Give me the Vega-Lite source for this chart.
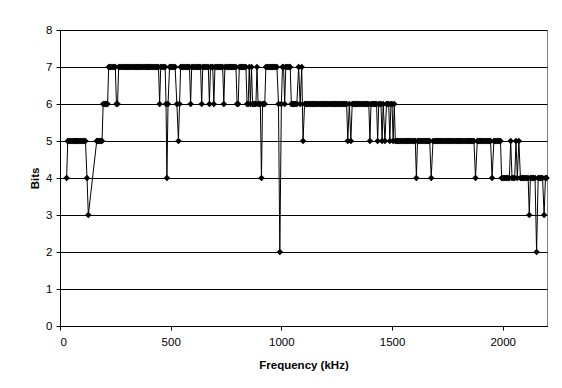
{
  "$schema": "https://vega.github.io/schema/vega-lite/v6.json",
  "width": 487,
  "height": 296,
  "autosize": {"type": "none"},
  "padding": {"left": 60, "top": 30, "right": 15, "bottom": 62},
  "background": "white",
  "data": {"values": [
    {"f":30,"b":4},
    {"f":35,"b":5},{"f":40,"b":5},{"f":45,"b":5},{"f":50,"b":5},{"f":55,"b":5},{"f":60,"b":5},{"f":65,"b":5},{"f":70,"b":5},{"f":75,"b":5},{"f":80,"b":5},{"f":85,"b":5},{"f":90,"b":5},{"f":95,"b":5},{"f":100,"b":5},{"f":105,"b":5},{"f":110,"b":5},{"f":115,"b":5},
    {"f":122,"b":4},{"f":128,"b":3},
    {"f":166,"b":5},{"f":170,"b":5},{"f":175,"b":5},{"f":180,"b":5},{"f":185,"b":5},{"f":190,"b":5},
    {"f":195,"b":6},{"f":200,"b":6},{"f":205,"b":6},{"f":210,"b":6},{"f":215,"b":6},
    {"f":220,"b":7},{"f":225,"b":7},{"f":230,"b":7},{"f":235,"b":7},{"f":240,"b":7},{"f":245,"b":7},{"f":250,"b":7},
    {"f":255,"b":6},{"f":260,"b":6},
    {"f":265,"b":7},{"f":270,"b":7},{"f":275,"b":7},{"f":280,"b":7},{"f":285,"b":7},{"f":290,"b":7},{"f":295,"b":7},{"f":300,"b":7},{"f":305,"b":7},{"f":310,"b":7},{"f":315,"b":7},{"f":320,"b":7},{"f":325,"b":7},{"f":330,"b":7},{"f":335,"b":7},{"f":340,"b":7},{"f":345,"b":7},{"f":350,"b":7},{"f":355,"b":7},{"f":360,"b":7},{"f":365,"b":7},{"f":370,"b":7},{"f":375,"b":7},{"f":380,"b":7},{"f":385,"b":7},{"f":390,"b":7},{"f":395,"b":7},{"f":400,"b":7},{"f":405,"b":7},{"f":410,"b":7},{"f":415,"b":7},{"f":420,"b":7},{"f":425,"b":7},{"f":430,"b":7},{"f":435,"b":7},{"f":440,"b":7},{"f":445,"b":7},
    {"f":450,"b":6},
    {"f":455,"b":7},{"f":460,"b":7},{"f":465,"b":7},{"f":470,"b":7},{"f":475,"b":7},
    {"f":479,"b":6},{"f":483,"b":4},{"f":488,"b":6},
    {"f":495,"b":7},{"f":500,"b":7},{"f":505,"b":7},{"f":510,"b":7},{"f":515,"b":7},{"f":520,"b":7},
    {"f":528,"b":6},{"f":535,"b":5},{"f":540,"b":6},
    {"f":545,"b":7},{"f":550,"b":7},{"f":555,"b":7},{"f":560,"b":7},{"f":565,"b":7},{"f":570,"b":7},{"f":575,"b":7},{"f":580,"b":7},{"f":585,"b":7},
    {"f":590,"b":6},
    {"f":595,"b":7},{"f":600,"b":7},{"f":605,"b":7},{"f":610,"b":7},{"f":615,"b":7},{"f":620,"b":7},{"f":625,"b":7},{"f":630,"b":7},{"f":635,"b":7},
    {"f":640,"b":6},
    {"f":645,"b":7},{"f":650,"b":7},{"f":655,"b":7},{"f":660,"b":7},{"f":665,"b":7},{"f":670,"b":7},
    {"f":675,"b":6},
    {"f":680,"b":7},{"f":685,"b":7},{"f":690,"b":7},
    {"f":695,"b":6},
    {"f":700,"b":7},{"f":705,"b":7},{"f":710,"b":7},{"f":715,"b":7},{"f":720,"b":7},{"f":725,"b":7},{"f":730,"b":7},{"f":735,"b":7},
    {"f":740,"b":6},
    {"f":745,"b":7},{"f":750,"b":7},{"f":755,"b":7},{"f":760,"b":7},{"f":765,"b":7},{"f":770,"b":7},{"f":775,"b":7},{"f":780,"b":7},{"f":785,"b":7},{"f":790,"b":7},{"f":795,"b":7},
    {"f":800,"b":6},{"f":805,"b":6},
    {"f":810,"b":7},{"f":815,"b":7},{"f":820,"b":7},{"f":825,"b":7},{"f":830,"b":7},{"f":835,"b":7},{"f":840,"b":7},
    {"f":845,"b":6},{"f":850,"b":6},{"f":855,"b":7},{"f":860,"b":6},{"f":865,"b":7},{"f":870,"b":6},{"f":875,"b":6},{"f":880,"b":6},{"f":885,"b":6},{"f":890,"b":7},{"f":895,"b":6},{"f":900,"b":6},{"f":905,"b":6},{"f":910,"b":4},{"f":915,"b":6},{"f":920,"b":6},{"f":925,"b":6},
    {"f":930,"b":7},{"f":935,"b":7},{"f":940,"b":7},{"f":945,"b":7},{"f":950,"b":7},{"f":955,"b":7},{"f":960,"b":7},{"f":965,"b":7},{"f":970,"b":7},{"f":975,"b":7},{"f":980,"b":7},
    {"f":987,"b":6},{"f":993,"b":2},{"f":1000,"b":6},
    {"f":1005,"b":7},{"f":1010,"b":7},{"f":1015,"b":6},{"f":1020,"b":7},{"f":1025,"b":7},{"f":1030,"b":7},{"f":1035,"b":7},{"f":1040,"b":7},
    {"f":1045,"b":6},{"f":1050,"b":6},{"f":1055,"b":6},{"f":1060,"b":6},{"f":1065,"b":6},{"f":1070,"b":6},
    {"f":1078,"b":7},{"f":1085,"b":6},{"f":1092,"b":7},{"f":1098,"b":5},
    {"f":1105,"b":6},{"f":1110,"b":6},{"f":1115,"b":6},{"f":1120,"b":6},{"f":1125,"b":6},{"f":1130,"b":6},{"f":1135,"b":6},{"f":1140,"b":6},{"f":1145,"b":6},{"f":1150,"b":6},{"f":1155,"b":6},{"f":1160,"b":6},{"f":1165,"b":6},{"f":1170,"b":6},{"f":1175,"b":6},{"f":1180,"b":6},{"f":1185,"b":6},{"f":1190,"b":6},{"f":1195,"b":6},{"f":1200,"b":6},{"f":1205,"b":6},{"f":1210,"b":6},{"f":1215,"b":6},{"f":1220,"b":6},{"f":1225,"b":6},{"f":1230,"b":6},{"f":1235,"b":6},{"f":1240,"b":6},{"f":1245,"b":6},{"f":1250,"b":6},{"f":1255,"b":6},{"f":1260,"b":6},{"f":1265,"b":6},{"f":1270,"b":6},{"f":1275,"b":6},{"f":1280,"b":6},{"f":1285,"b":6},{"f":1290,"b":6},{"f":1295,"b":6},
    {"f":1300,"b":5},{"f":1307,"b":6},{"f":1314,"b":5},
    {"f":1320,"b":6},{"f":1325,"b":6},{"f":1330,"b":6},{"f":1335,"b":6},{"f":1340,"b":6},{"f":1345,"b":6},{"f":1350,"b":6},{"f":1355,"b":6},{"f":1360,"b":6},{"f":1365,"b":6},{"f":1370,"b":6},{"f":1375,"b":6},{"f":1380,"b":6},{"f":1385,"b":6},{"f":1390,"b":6},{"f":1395,"b":6},
    {"f":1400,"b":5},
    {"f":1405,"b":6},{"f":1410,"b":6},{"f":1415,"b":6},{"f":1420,"b":6},{"f":1425,"b":6},{"f":1430,"b":6},
    {"f":1435,"b":5},
    {"f":1440,"b":6},{"f":1445,"b":6},{"f":1450,"b":6},
    {"f":1455,"b":5},{"f":1460,"b":6},{"f":1468,"b":5},
    {"f":1475,"b":6},{"f":1480,"b":6},{"f":1485,"b":6},
    {"f":1490,"b":5},{"f":1495,"b":6},{"f":1500,"b":6},{"f":1505,"b":5},{"f":1510,"b":6},
    {"f":1515,"b":5},{"f":1520,"b":5},{"f":1525,"b":5},{"f":1530,"b":5},{"f":1535,"b":5},{"f":1540,"b":5},{"f":1545,"b":5},{"f":1550,"b":5},{"f":1555,"b":5},{"f":1560,"b":5},{"f":1565,"b":5},{"f":1570,"b":5},{"f":1575,"b":5},{"f":1580,"b":5},{"f":1585,"b":5},{"f":1590,"b":5},{"f":1595,"b":5},{"f":1600,"b":5},{"f":1605,"b":5},
    {"f":1610,"b":4},
    {"f":1615,"b":5},{"f":1620,"b":5},{"f":1625,"b":5},{"f":1630,"b":5},{"f":1635,"b":5},{"f":1640,"b":5},{"f":1645,"b":5},{"f":1650,"b":5},{"f":1655,"b":5},{"f":1660,"b":5},{"f":1665,"b":5},{"f":1670,"b":5},
    {"f":1677,"b":4},
    {"f":1685,"b":5},{"f":1690,"b":5},{"f":1695,"b":5},{"f":1700,"b":5},{"f":1705,"b":5},{"f":1710,"b":5},{"f":1715,"b":5},{"f":1720,"b":5},{"f":1725,"b":5},{"f":1730,"b":5},{"f":1735,"b":5},{"f":1740,"b":5},{"f":1745,"b":5},{"f":1750,"b":5},{"f":1755,"b":5},{"f":1760,"b":5},{"f":1765,"b":5},{"f":1770,"b":5},{"f":1775,"b":5},{"f":1780,"b":5},{"f":1785,"b":5},{"f":1790,"b":5},{"f":1795,"b":5},{"f":1800,"b":5},{"f":1805,"b":5},{"f":1810,"b":5},{"f":1815,"b":5},{"f":1820,"b":5},{"f":1825,"b":5},{"f":1830,"b":5},{"f":1835,"b":5},{"f":1840,"b":5},{"f":1845,"b":5},{"f":1850,"b":5},{"f":1855,"b":5},{"f":1860,"b":5},{"f":1865,"b":5},{"f":1870,"b":5},
    {"f":1877,"b":4},
    {"f":1885,"b":5},{"f":1890,"b":5},{"f":1895,"b":5},{"f":1900,"b":5},{"f":1905,"b":5},{"f":1910,"b":5},{"f":1915,"b":5},{"f":1920,"b":5},{"f":1925,"b":5},{"f":1930,"b":5},{"f":1935,"b":5},{"f":1940,"b":5},{"f":1945,"b":5},
    {"f":1952,"b":4},
    {"f":1960,"b":5},{"f":1965,"b":5},{"f":1970,"b":5},{"f":1975,"b":5},{"f":1980,"b":5},{"f":1985,"b":5},{"f":1990,"b":5},
    {"f":1995,"b":4},{"f":2000,"b":4},{"f":2005,"b":4},{"f":2010,"b":4},{"f":2015,"b":4},{"f":2020,"b":4},{"f":2025,"b":4},{"f":2030,"b":4},
    {"f":2036,"b":5},{"f":2042,"b":4},{"f":2048,"b":4},{"f":2054,"b":4},{"f":2060,"b":5},{"f":2066,"b":4},{"f":2073,"b":5},
    {"f":2080,"b":4},{"f":2085,"b":4},{"f":2090,"b":4},{"f":2095,"b":4},{"f":2100,"b":4},{"f":2105,"b":4},{"f":2110,"b":4},{"f":2115,"b":4},
    {"f":2120,"b":3},
    {"f":2125,"b":4},{"f":2130,"b":4},{"f":2135,"b":4},{"f":2140,"b":4},{"f":2146,"b":4},
    {"f":2153,"b":2},
    {"f":2160,"b":4},{"f":2165,"b":4},{"f":2170,"b":4},{"f":2175,"b":4},{"f":2180,"b":4},
    {"f":2187,"b":3},{"f":2193,"b":4},{"f":2198,"b":4}
  ]},
  "mark": {
    "type": "line",
    "color": "black",
    "strokeWidth": 1,
    "clip": false,
    "point": {"shape": "diamond", "size": 42, "filled": true, "color": "black", "opacity": 1}
  },
  "encoding": {
    "x": {
      "field": "f",
      "type": "quantitative",
      "scale": {"domain": [0, 2200], "nice": false, "zero": false},
      "axis": {"title": "Frequency (kHz)", "values": [0, 500, 1000, 1500, 2000], "format": "d", "grid": false, "labelPadding": 6, "titlePadding": 12}
    },
    "y": {
      "field": "b",
      "type": "quantitative",
      "scale": {"domain": [0, 8], "nice": false},
      "axis": {"title": "Bits", "values": [0, 1, 2, 3, 4, 5, 6, 7, 8], "format": "d", "grid": true, "labelPadding": 4, "titlePadding": 5}
    }
  },
  "config": {
    "view": {"stroke": "#808080", "strokeWidth": 1},
    "axis": {
      "domainColor": "black",
      "tickColor": "black",
      "tickSize": 4,
      "gridColor": "black",
      "gridOpacity": 1,
      "labelColor": "black",
      "titleColor": "black",
      "labelFont": "Liberation Sans",
      "titleFont": "Liberation Sans",
      "labelFontSize": 11.5,
      "titleFontSize": 11.5,
      "titleFontWeight": "bold"
    }
  }
}
